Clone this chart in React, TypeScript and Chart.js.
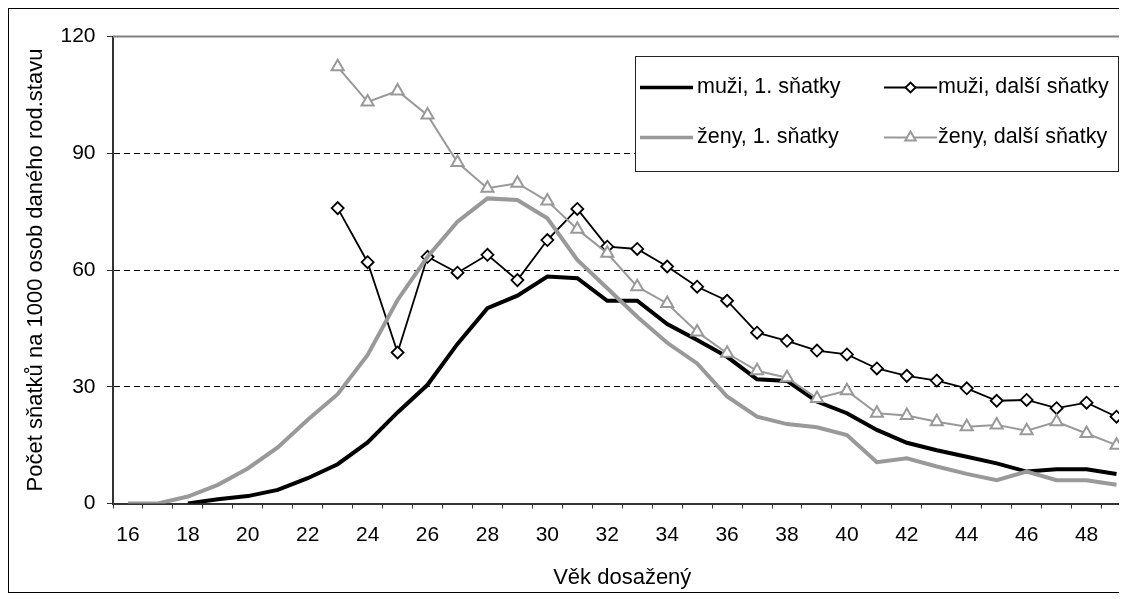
import React, { useEffect, useRef } from 'react';
import { Chart, registerables } from 'chart.js';

Chart.register(...registerables);

const ages = ['16','17','18','19','20','21','22','23','24','25','26','27','28','29','30','31','32','33','34','35','36','37','38','39','40','41','42','43','44','45','46','47','48','49'];

const menFirst = [null, null, 0, 1.1, 1.9, 3.5, 6.5, 10.1, 15.7, 23.4, 30.5, 41, 50.2, 53.4, 58.3, 57.9, 52.1, 52.1, 46.1, 42, 37.7, 31.9, 31.5, 26.2, 23.2, 18.9, 15.6, 13.7, 12, 10.3, 8.2, 8.8, 8.8, 7.6];
const menOther = [null, null, null, null, null, null, null, 75.9, 62, 38.8, 63.4, 59.3, 63.9, 57.4, 67.7, 75.7, 66, 65.4, 60.9, 55.7, 52.1, 43.9, 41.8, 39.3, 38.3, 34.7, 32.8, 31.6, 29.6, 26.4, 26.6, 24.5, 25.9, 22.3];
const womenFirst = [0, 0, 1.8, 4.8, 9, 14.4, 21.5, 28.1, 38.2, 52.3, 63.4, 72.4, 78.4, 78, 73.3, 62.6, 55.3, 48, 41.3, 36, 27.5, 22.3, 20.4, 19.6, 17.6, 10.6, 11.6, 9.5, 7.6, 6, 8.2, 6, 6, 4.8];
const womenOther = [null, null, null, null, null, null, null, 112.2, 103.2, 106, 99.8, 87.6, 81, 82.3, 77.7, 70.5, 64.3, 55.7, 51.4, 44.1, 38.6, 34.1, 32.3, 27, 29, 23.2, 22.6, 21, 19.7, 20.2, 18.7, 21, 18, 15];

const seriesNames = ['muži, 1. sňatky', 'muži, další sňatky', 'ženy, 1. sňatky', 'ženy, další sňatky'];
const yTicks = [0, 30, 60, 90, 120];
const xTitle = 'Věk dosažený';
const yTitle = 'Počet sňatků na 1000 osob daného rod.stavu';

const FONT = '"Liberation Sans", Arial, sans-serif';

const topLinePlugin = {
  id: 'topLine',
  beforeDatasetsDraw(chart: any) {
    const { ctx, chartArea } = chart;
    const y = chart.scales.y.getPixelForValue(yTicks[yTicks.length - 1]);
    ctx.save();
    ctx.strokeStyle = '#808080';
    ctx.lineWidth = 2;
    ctx.beginPath();
    ctx.moveTo(chartArea.left, y);
    ctx.lineTo(chartArea.right, y);
    ctx.stroke();
    ctx.restore();
  },
};

function drawMarker(ctx: CanvasRenderingContext2D, style: string, x: number, y: number, r: number) {
  ctx.beginPath();
  if (style === 'rectRot') {
    ctx.moveTo(x, y - r);
    ctx.lineTo(x + r, y);
    ctx.lineTo(x, y + r);
    ctx.lineTo(x - r, y);
    ctx.closePath();
  } else {
    ctx.moveTo(x, y - r);
    ctx.lineTo(x + r * Math.sin((2 * Math.PI) / 3), y - r * Math.cos((2 * Math.PI) / 3));
    ctx.lineTo(x + r * Math.sin((4 * Math.PI) / 3), y - r * Math.cos((4 * Math.PI) / 3));
    ctx.closePath();
  }
  ctx.fill();
  ctx.stroke();
}

const legendPlugin = {
  id: 'boxLegend',
  afterDraw(chart: any) {
    const { ctx } = chart;
    const bx = 626, by = 47, bw = 483, bh = 115;
    ctx.save();
    ctx.fillStyle = '#ffffff';
    ctx.fillRect(bx, by, bw, bh);
    ctx.strokeStyle = '#222';
    ctx.lineWidth = 1;
    ctx.strokeRect(bx + 0.5, by + 0.5, bw, bh);
    const cols = [{ l1: 631, l2: 684, tx: 688 }, { l1: 875, l2: 928, tx: 929 }];
    const rows = [78, 128];
    chart.data.datasets.forEach((ds: any, i: number) => {
      const c = cols[i % 2];
      const y = rows[Math.floor(i / 2)];
      ctx.strokeStyle = ds.borderColor;
      ctx.lineWidth = ds.legendLineWidth;
      ctx.beginPath();
      ctx.moveTo(c.l1, y + 0.5);
      ctx.lineTo(c.l2, y + 0.5);
      ctx.stroke();
      if (ds.pointRadius > 0) {
        ctx.fillStyle = '#fff';
        ctx.lineWidth = ds.pointBorderWidth;
        drawMarker(ctx, ds.pointStyle, (c.l1 + c.l2) / 2, y + 0.5, ds.pointStyle === 'rectRot' ? 5 : 6);
      }
      ctx.fillStyle = '#000';
      ctx.font = `21.5px ${FONT}`;
      ctx.textBaseline = 'middle';
      ctx.textAlign = 'left';
      ctx.fillText(ds.label, c.tx, y);
    });
    ctx.restore();
  },
};

export default function App() {
  const canvasRef = useRef<HTMLCanvasElement | null>(null);

  useEffect(() => {
    if (!canvasRef.current) return;
    const chart = new Chart(canvasRef.current, {
      type: 'line',
      data: {
        labels: ages,
        datasets: [
          {
            label: seriesNames[0],
            data: menFirst,
            borderColor: '#000000',
            borderWidth: 4,
            pointRadius: 0,
            legendLineWidth: 3.5,
            order: 4,
            tension: 0,
          } as any,
          {
            label: seriesNames[1],
            data: menOther,
            borderColor: '#000000',
            borderWidth: 1.8,
            pointStyle: 'rectRot',
            pointRadius: 6,
            pointBorderWidth: 1.8,
            pointBackgroundColor: '#ffffff',
            pointBorderColor: '#000000',
            legendLineWidth: 1.8,
            order: 3,
            tension: 0,
          } as any,
          {
            label: seriesNames[2],
            data: womenFirst,
            borderColor: '#999999',
            borderWidth: 4,
            pointRadius: 0,
            legendLineWidth: 3.5,
            order: 2,
            tension: 0,
          } as any,
          {
            label: seriesNames[3],
            data: womenOther,
            borderColor: '#999999',
            borderWidth: 2,
            pointStyle: 'triangle',
            pointRadius: 7,
            pointBorderWidth: 2,
            pointBackgroundColor: '#ffffff',
            pointBorderColor: '#999999',
            legendLineWidth: 2,
            order: 1,
            tension: 0,
          } as any,
        ],
      },
      options: {
        animation: false,
        responsive: false,
        devicePixelRatio: 1,
        layout: { padding: { left: 0, top: 27.5, right: 12.5, bottom: 0 } },
        plugins: {
          legend: { display: false },
          tooltip: { enabled: false },
          title: { display: false },
        },
        scales: {
          x: {
            type: 'category',
            offset: true,
            afterFit: (scale: any) => { scale.height = 88.5; },
            grid: {
              offset: true,
              drawOnChartArea: false,
              drawTicks: true,
              tickLength: 5,
              tickColor: '#333333',
              tickWidth: 1,
            },
            border: { display: true, color: '#333333', width: 2 },
            ticks: {
              autoSkip: false,
              maxRotation: 0,
              minRotation: 0,
              padding: 14,
              color: '#000000',
              font: { family: FONT, size: 21 },
              callback: (_v: any, i: number) => (i % 2 === 0 ? ages[i] : ''),
            },
            title: {
              display: true,
              text: xTitle,
              color: '#000000',
              font: { family: FONT, size: 22 },
              padding: { top: 0, bottom: 1.3 },
            },
          },
          y: {
            type: 'linear',
            min: 0,
            max: 120,
            afterFit: (scale: any) => { scale.width = 104; },
            afterBuildTicks: (scale: any) => { scale.ticks = yTicks.map((v) => ({ value: v })); },
            grid: {
              color: (c: any) => (c.tick && c.tick.value > 0 && c.tick.value < 120 ? '#000000' : 'rgba(0,0,0,0)'),
              lineWidth: 1,
              drawTicks: true,
              tickLength: 6,
              tickColor: '#333333',
              tickWidth: 1,
              tickBorderDash: [],
            },
            border: { display: true, color: '#333333', width: 2, dash: [6, 4] },
            ticks: {
              padding: 11.5,
              color: '#000000',
              font: { family: FONT, size: 21 },
            },
            title: {
              display: true,
              text: yTitle,
              color: '#000000',
              font: { family: FONT, size: 22 },
              padding: { top: 13.5, bottom: 0 },
            },
          },
        },
      } as any,
      plugins: [topLinePlugin, legendPlugin],
    });
    return () => chart.destroy();
  }, []);

  return (
    <div
      style={{
        position: 'relative',
        width: 1119,
        height: 585,
        boxSizing: 'border-box',
        borderTop: '1px solid #000',
        borderLeft: '1px solid #000',
        borderBottom: '1px solid #000',
        background: '#fff',
      }}
    >
      <div style={{ position: 'absolute', left: 0, top: 0, width: 1110, height: 583, overflow: 'hidden' }}>
        <canvas ref={canvasRef} width={1135} height={583} style={{ display: 'block', width: 1135, height: 583 }} />
      </div>
    </div>
  );
}
